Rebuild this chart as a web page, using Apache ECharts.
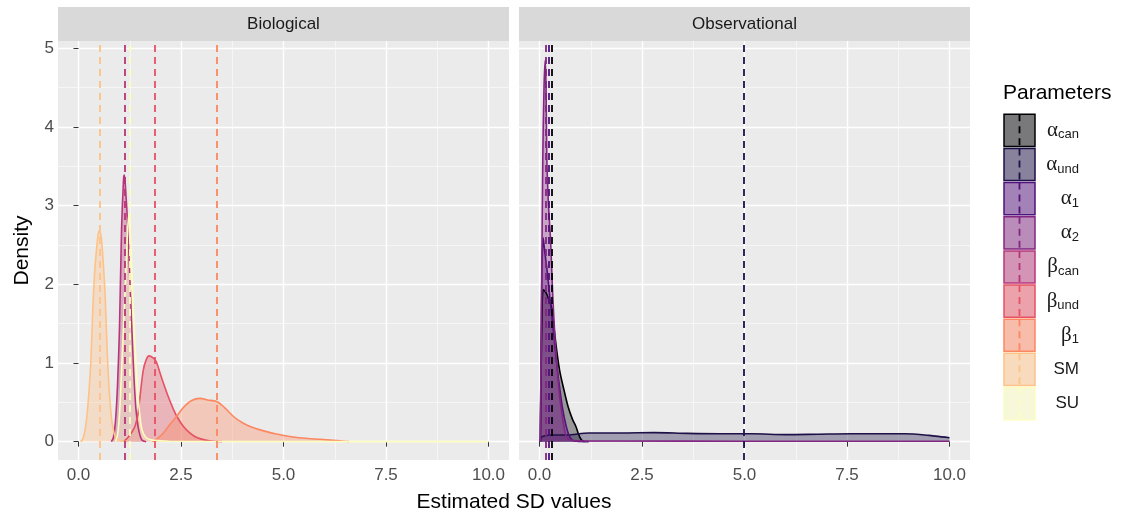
<!DOCTYPE html>
<html><head><meta charset="utf-8">
<script src="https://cdn.jsdelivr.net/npm/echarts@6/dist/echarts.min.js"></script>
<style>html,body{margin:0;padding:0;background:#fff}#c{width:1123px;height:515px}</style>
</head><body><div id="c"></div><script>
// ---- data ----
const paramKeys   = ['acan','aund','a1','a2','bcan','bund','b1','SM','SU'];
const legendBase  = ['α','α','α','α','β','β','β','SM','SU'];
const legendSub   = ['can','und','1','2','can','und','1','',''];
const paramColors = ['#000004','#1D1147','#51127C','#822681','#B63679','#E65164','#FB8861','#FEC287','#FCFDBF'];
const panelNames  = ['Biological','Observational'];
const paramPanel  = [1,1,1,1,0,0,0,0,0];
const vlineValues = [0.31,4.98,0.22,0.15,1.13,1.85,3.37,0.52,1.24];
const xTicks = [0,2.5,5,7.5,10];
const xMinor = [1.25,3.75,6.25,8.75];
const yTicks = [0,1,2,3,4,5];
const yMinor = [0.5,1.5,2.5,3.5,4.5];

const dens_acan = [[0.02,0],[0.04,0.9],[0.06,1.6],[0.09,1.93],[0.15,1.9],[0.22,1.82],[0.3,1.7],[0.36,1.42],[0.43,1.12],[0.5,0.88],[0.6,0.65],[0.7,0.44],[0.8,0.29],[0.89,0.19],[0.95,0.1],[1.0,0.04],[1.05,0.01],[1.1,0]];
const dens_aund = [[0.02,0],[0.05,0.06],[0.3,0.085],[0.66,0.085],[1.2,0.11],[2.0,0.11],[2.8,0.115],[3.6,0.105],[4.4,0.1],[5.2,0.1],[6.0,0.09],[6.8,0.095],[7.6,0.1],[8.4,0.1],[8.9,0.1],[9.5,0.08],[10,0.05]];
const dens_a1   = [[0.02,0],[0.04,1.2],[0.06,2.2],[0.09,2.59],[0.12,2.45],[0.18,2.2],[0.25,1.85],[0.33,1.45],[0.42,1.0],[0.5,0.65],[0.57,0.4],[0.65,0.2],[0.72,0.08],[0.8,0.02],[0.9,0.005],[1.2,0]];
const dens_a2   = [[0.02,0],[0.05,1.8],[0.08,3.58],[0.11,4.5],[0.14,4.85],[0.16,4.5],[0.18,3.58],[0.22,3.0],[0.27,2.56],[0.32,1.9],[0.38,1.29],[0.45,0.8],[0.52,0.45],[0.6,0.18],[0.66,0.06],[0.75,0.02],[1.0,0.01],[2,0.008],[5,0.006],[10,0.005]];
const dens_bcan = [[0.8,0],[0.85,0.05],[0.9,0.25],[0.95,0.7],[1.0,1.45],[1.05,2.7],[1.1,3.35],[1.12,3.39],[1.15,3.2],[1.2,2.75],[1.25,2.1],[1.3,1.46],[1.35,0.85],[1.4,0.42],[1.45,0.2],[1.5,0.08],[1.55,0.02],[1.65,0]];
const dens_bund = [[1.1,0],[1.2,0.05],[1.3,0.12],[1.38,0.2],[1.45,0.35],[1.5,0.57],[1.58,0.91],[1.65,1.04],[1.72,1.09],[1.78,1.08],[1.85,1.05],[1.91,1.0],[1.99,0.87],[2.1,0.7],[2.19,0.57],[2.3,0.43],[2.4,0.32],[2.55,0.2],[2.72,0.11],[2.9,0.05],[3.1,0.02],[3.3,0.005],[3.5,0]];
const dens_b1   = [[1.8,0],[1.95,0.05],[2.07,0.11],[2.2,0.2],[2.39,0.32],[2.55,0.43],[2.75,0.52],[2.96,0.55],[3.15,0.53],[3.37,0.51],[3.55,0.44],[3.78,0.32],[4.0,0.24],[4.2,0.19],[4.43,0.15],[4.8,0.1],[5.23,0.06],[5.6,0.04],[5.89,0.03],[6.38,0.01],[6.6,0]];
const dens_SM   = [[0.05,0],[0.1,0.03],[0.15,0.12],[0.2,0.3],[0.25,0.6],[0.3,1.0],[0.35,1.7],[0.4,2.2],[0.45,2.5],[0.5,2.68],[0.55,2.62],[0.6,2.3],[0.65,1.85],[0.7,1.15],[0.75,0.65],[0.8,0.32],[0.85,0.15],[0.9,0.06],[1.0,0.02],[1.1,0.005],[1.2,0]];
const dens_SU   = [[0.9,0],[0.95,0.08],[1.0,0.35],[1.05,0.9],[1.1,1.5],[1.15,2.1],[1.2,2.7],[1.23,2.9],[1.27,2.6],[1.32,1.89],[1.36,1.4],[1.4,1.04],[1.45,0.6],[1.5,0.32],[1.55,0.15],[1.65,0.05],[1.8,0.02],[2.2,0.005],[4,0.002],[7,0.001],[10,0]];
const densities = [dens_acan,dens_aund,dens_a1,dens_a2,dens_bcan,dens_bund,dens_b1,dens_SM,dens_SU];

// ---- layout ----
const panelLeft = [58, 519], panelTop = 41, panelW = 451, panelH = 419;
const XMIN = -0.5, XMAX = 10.5, YMIN = -0.233, YMAX = 5.093;
function rgba(hex, a){const n=parseInt(hex.slice(1),16);return `rgba(${n>>16&255},${n>>8&255},${n&255},${a})`;}

const grids = panelLeft.map(l => ({left:l, top:panelTop, width:panelW, height:panelH, show:true, backgroundColor:'#EBEBEB', borderWidth:0}));
const xAxes = [], yAxes = [];
panelLeft.forEach((l, p) => {
  xAxes.push({type:'value', gridIndex:p, min:XMIN, max:XMAX,
    axisLine:{show:false},
    axisTick:{show:true, customValues:xTicks, length:5, lineStyle:{color:'#333333', width:1}},
    axisLabel:{show:true, customValues:xTicks, formatter:v=>v.toFixed(1), color:'#4D4D4D', fontSize:17, margin:7},
    splitLine:{show:true, lineStyle:{color:'#FFFFFF', width:1.4}}, z:1});
  xAxes.push({type:'value', gridIndex:p, min:XMIN, max:XMAX,
    axisLine:{show:false}, axisTick:{show:false, customValues:xMinor}, axisLabel:{show:false, customValues:xMinor},
    splitLine:{show:true, lineStyle:{color:'#F9F9F9', width:0.8}}, z:0});
  yAxes.push({type:'value', gridIndex:p, min:YMIN, max:YMAX,
    axisLine:{show:false},
    axisTick:{show:p===0, customValues:yTicks, length:5, lineStyle:{color:'#333333', width:1}},
    axisLabel:{show:p===0, customValues:yTicks, color:'#4D4D4D', fontSize:17, margin:4},
    splitLine:{show:true, lineStyle:{color:'#FFFFFF', width:1.4}},
    name: p===0 ? 'Density' : '', nameLocation:'middle', nameGap:25, nameRotate:90,
    nameTextStyle:{fontSize:21, color:'#000000'}, z:1});
  yAxes.push({type:'value', gridIndex:p, min:YMIN, max:YMAX,
    axisLine:{show:false}, axisTick:{show:false, customValues:yMinor}, axisLabel:{show:false, customValues:yMinor},
    splitLine:{show:true, lineStyle:{color:'#F9F9F9', width:0.8}}, z:0});
});

const series = paramKeys.map((k, i) => {
  const p = paramPanel[i];
  return {
    name:k, type:'line', xAxisIndex:2*p, yAxisIndex:2*p, data:densities[i],
    symbol:'none', smooth:0.3, silent:true,
    lineStyle:{color:paramColors[i], width:1.6},
    areaStyle:{color:rgba(paramColors[i],0.5)},
    markLine:{symbol:'none', silent:true, label:{show:false},
      lineStyle:{color:paramColors[i], type:[7,5], width:1.8},
      data:[{xAxis:vlineValues[i]}]}
  };
});

const graphics = [];
panelNames.forEach((n, p) => {
  graphics.push({type:'rect', shape:{x:panelLeft[p], y:7, width:panelW, height:34}, style:{fill:'#D9D9D9'}, silent:true});
  graphics.push({type:'text', style:{text:n, x:panelLeft[p]+panelW/2, y:24, align:'center', verticalAlign:'middle', fontSize:17, fill:'#1A1A1A', fontFamily:'Liberation Sans'}, silent:true});
});
graphics.push({type:'text', style:{text:'Estimated SD values', x:514, y:502, align:'center', verticalAlign:'middle', fontSize:21, fill:'#000', fontFamily:'Liberation Sans'}});
// legend
graphics.push({type:'text', style:{text:'Parameters', x:1003, y:93, align:'left', verticalAlign:'middle', fontSize:21, fill:'#000', fontFamily:'Liberation Sans'}});
const keyTop = 113.3, keyStep = 34.15;
paramKeys.forEach((k, i) => {
  const y0 = keyTop + i*keyStep;
  graphics.push({type:'rect', shape:{x:1004, y:y0+1, width:31, height:keyStep-2}, style:{fill:'#F2F2F2'}, silent:true});
  graphics.push({type:'rect', shape:{x:1004, y:y0+1, width:31, height:keyStep-2}, style:{fill:rgba(paramColors[i],0.5), stroke:paramColors[i], lineWidth:1.5}, silent:true});
  graphics.push({type:'line', shape:{x1:1019.5, y1:y0+1, x2:1019.5, y2:y0+keyStep-1}, style:{stroke:paramColors[i], lineWidth:1.8, lineDash:[7,5]}, silent:true});
  const txt = legendSub[i] ? `{g|${legendBase[i]}}{s|${legendSub[i]}}` : `{t|${legendBase[i]}}`;
  graphics.push({type:'text', style:{text:txt, x:1079, y:y0+keyStep/2, align:'right', verticalAlign:'middle',
    rich:{g:{fontFamily:'Liberation Serif', fontSize:21, fill:'#1A1A1A'},
          s:{fontFamily:'Liberation Sans', fontSize:13, fill:'#1A1A1A', padding:[9,0,0,0]},
          t:{fontFamily:'Liberation Sans', fontSize:17, fill:'#1A1A1A'}}}, silent:true});
});

const chart = echarts.init(document.getElementById('c'), null, {renderer:'canvas'});
chart.setOption({
  animation:false, backgroundColor:'#FFFFFF',
  textStyle:{fontFamily:'Liberation Sans'},
  grid:grids, xAxis:xAxes, yAxis:yAxes, series:series, graphic:graphics
});
</script></body></html>
